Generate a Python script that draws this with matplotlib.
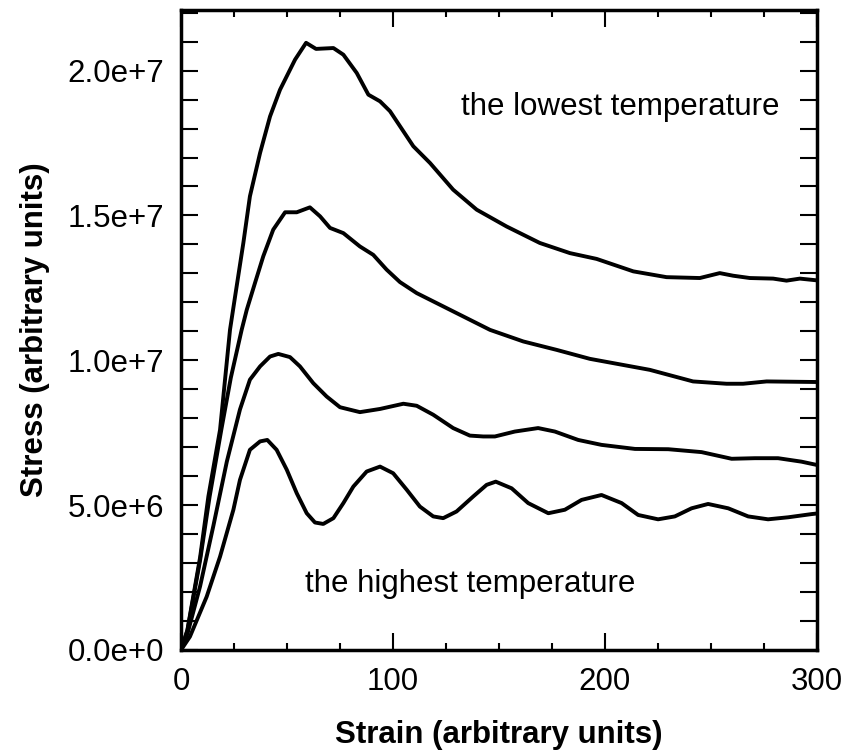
import numpy as np
import matplotlib.pyplot as plt
from matplotlib.ticker import FixedLocator, MultipleLocator

plt.rcParams['font.family'] = ['Liberation Sans', 'DejaVu Sans']

# stress-strain curves, lowest to highest temperature
x_low = [0, 3, 9, 12.9, 18.4, 23.1, 25.5, 29.4, 32.5, 37.3, 42, 46.7, 53.8, 59, 63.7,
         71.9, 76.6, 82.9, 88.4, 93.9, 98.6, 109.6, 117.5, 128.4, 139.5, 153.6, 169.3,
         183.5, 196.1, 213.4, 229.1, 244.8, 254.2, 260.5, 268.4, 279.4, 285.7, 292, 300]
y_low = [0, 0.69e6, 3.2e6, 5.3e6, 7.6e6, 1.105e7, 1.22e7, 1.405e7, 1.566e7, 1.716e7,
         1.842e7, 1.934e7, 2.038e7, 2.096e7, 2.075e7, 2.078e7, 2.055e7, 1.992e7,
         1.917e7, 1.894e7, 1.86e7, 1.739e7, 1.681e7, 1.589e7, 1.52e7, 1.462e7,
         1.405e7, 1.37e7, 1.35e7, 1.307e7, 1.287e7, 1.284e7, 1.301e7, 1.292e7,
         1.284e7, 1.282e7, 1.275e7, 1.282e7, 1.276e7]

x_mid1 = [0, 3, 9, 13.5, 19, 23.5, 28.6, 31, 34.9, 38.8, 43.5, 49.1, 54.6, 60.8,
          65.6, 70.3, 76.6, 84.4, 90.7, 97, 103.3, 111.2, 130, 145.8, 161.5, 177.2,
          192.9, 221.2, 241.6, 257.4, 265.2, 276.3, 300]
y_mid1 = [0, 0.66e6, 3.1e6, 5.3e6, 7.6e6, 9.4e6, 1.105e7, 1.174e7, 1.267e7,
          1.359e7, 1.451e7, 1.511e7, 1.511e7, 1.528e7, 1.497e7, 1.457e7, 1.439e7,
          1.393e7, 1.364e7, 1.313e7, 1.27e7, 1.232e7, 1.163e7, 1.105e7, 1.065e7,
          1.036e7, 1.005e7, 9.67e6, 9.27e6, 9.19e6, 9.19e6, 9.27e6, 9.25e6]

x_mid2 = [0, 3, 9, 15.3, 21.6, 27.8, 32.5, 37.3, 42, 45.9, 51.4, 56.1, 62.4,
          68.7, 75, 84.4, 93.9, 104.9, 111.2, 119, 128.4, 136.3, 142.6, 148.1, 157.5,
          168.5, 176.4, 187.4, 198.4, 214.2, 229.9, 245.6, 259.8, 270.8, 281.7,
          292.8, 299.8]
y_mid2 = [0, 0.55e6, 2.2e6, 4.3e6, 6.5e6, 8.3e6, 9.33e6, 9.79e6, 1.013e7,
          1.022e7, 1.011e7, 9.79e6, 9.21e6, 8.75e6, 8.38e6, 8.21e6, 8.32e6, 8.5e6,
          8.43e6, 8.12e6, 7.66e6, 7.4e6, 7.37e6, 7.37e6, 7.54e6, 7.66e6, 7.54e6,
          7.25e6, 7.08e6, 6.94e6, 6.93e6, 6.83e6, 6.6e6, 6.62e6, 6.62e6, 6.5e6, 6.39e6]

x_high = [0, 4.2, 12.1, 18.4, 24.7, 27.8, 32.5, 37.3, 40.7, 45.1, 49.9, 54.6, 59.3,
          63.2, 67.1, 71.9, 76.6, 81.3, 87.6, 93.9, 100.1, 106.5, 112.7, 119, 123.7,
          130, 137.9, 144.2, 148.5, 156, 163.8, 173.3, 181.1, 189, 198.4, 207.9,
          215.7, 225.1, 233, 240.9, 248.7, 258.2, 267.6, 277, 286.5, 297.5, 300]
y_high = [0, 0.46e6, 1.84e6, 3.22e6, 4.84e6, 5.87e6, 6.91e6, 7.2e6, 7.25e6, 6.91e6,
          6.22e6, 5.41e6, 4.72e6, 4.4e6, 4.35e6, 4.55e6, 5.07e6, 5.64e6, 6.16e6,
          6.33e6, 6.1e6, 5.53e6, 4.95e6, 4.61e6, 4.55e6, 4.78e6, 5.3e6, 5.7e6,
          5.81e6, 5.58e6, 5.07e6, 4.72e6, 4.84e6, 5.18e6, 5.35e6, 5.07e6, 4.66e6,
          4.51e6, 4.61e6, 4.89e6, 5.04e6, 4.89e6, 4.61e6, 4.51e6, 4.58e6, 4.69e6,
          4.71e6]

x_ticks = [0, 100, 200, 300]
y_ticks = [0, 5e6, 1e7, 1.5e7, 2e7]
y_tick_labels = ['0.0e+0', '5.0e+6', '1.0e+7', '1.5e+7', '2.0e+7']

fig = plt.figure(figsize=(8.58, 7.54), dpi=100)
ax = fig.add_axes([0.211, 0.138, 0.741, 0.849])

for xs, ys in [(x_low, y_low), (x_mid1, y_mid1), (x_mid2, y_mid2), (x_high, y_high)]:
    ax.plot(xs, ys, color='black', lw=2.8, solid_joinstyle='round', solid_capstyle='round')

ax.set_xlim(0, 300)
ax.set_ylim(0, 2.21e7)

ax.xaxis.set_major_locator(FixedLocator(x_ticks))
ax.xaxis.set_minor_locator(MultipleLocator(25))
ax.yaxis.set_major_locator(FixedLocator(y_ticks))
ax.yaxis.set_minor_locator(MultipleLocator(1e6))
ax.set_yticklabels(y_tick_labels)

ax.tick_params(which='both', direction='in', top=True, right=True,
               width=1.5, labelsize=22.5, color='black')
ax.tick_params(axis='x', which='major', length=12, pad=12)
ax.tick_params(axis='x', which='minor', length=5)
ax.tick_params(axis='y', which='both', length=12, pad=12)

for s in ax.spines.values():
    s.set_linewidth(2.5)

ax.set_xlabel('Strain (arbitrary units)', fontsize=22.5, fontweight='bold', labelpad=17)
ax.set_ylabel('Stress (arbitrary units)', fontsize=22.5, fontweight='bold', labelpad=13)

ax.text(132, 1.848e7, 'the lowest temperature', fontsize=22.5, ha='left', va='baseline')
ax.text(58.5, 2.0e6, 'the highest temperature', fontsize=22.5, ha='left', va='baseline')

fig.savefig('out.png', dpi=100)
